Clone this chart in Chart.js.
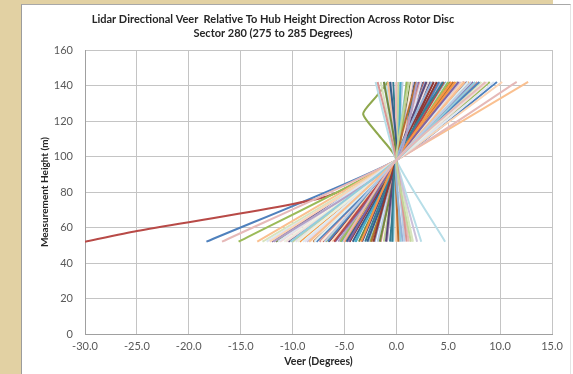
<!DOCTYPE html>
<html>
<head>
<meta charset="utf-8">
<script src="https://cdn.jsdelivr.net/npm/chart.js@4.4.0/dist/chart.umd.min.js"></script>
<style>
  html, body { margin: 0; padding: 0; background: #fff; }
  #frame { position: absolute; left: 0; top: 0; width: 553px; height: 374px; background: #E2D1A3; }
  #panel { position: absolute; left: 21px; top: 4px; width: 548px; height: 370px; background: #fff;
           border-left: 1px solid #9C9C9C; border-top: 1px solid #A8A8A8; border-right: 1px solid #E4E4E4; }
  #chart { position: absolute; left: 0; top: 0; }
</style>
</head>
<body>
<div id="frame"></div>
<div id="panel"><canvas id="chart" width="548" height="369"></canvas></div>
<script>
// measurement heights (m)
const lowHeight = 52;
const hubHeight = 98;
const topHeight = 142;
const hubVeer = 0;

// veer (deg) of each profile at the lowest and highest level
const veerLow = [
  -18.3, -30.0, -15.2, -12.0, -3.9, -9.3, -4.2, -6.5, -11.6, -10.4,
  -0.6, -8.0, -2.7, -7.4, -10.0, -5.6, 0.4, -13.4, -1.8, -16.8,
  -12.9, -8.6, 2.4, -6.2, -12.5, -11.2, -10.8, -9.7, -9.0, -8.3,
  -7.7, -7.1, -6.8, -5.9, -5.3, -5.0, -4.8, -4.5, -3.6, -3.3,
  -3.0, -2.4, -2.1, -1.5, -1.2, -0.9, -0.3, 0.0, 0.8, 1.2,
  1.6, 2.0, 4.7, -12.2, -11.4, -10.6, -9.5, -8.8, -7.9, -7.2,
  -6.6, -6.0, -5.4, -4.6, -4.0, -3.4, -2.8, -2.2, -1.6, -1.0,
  -0.4, 0.2, 0.6, 1.0, 1.4, -11.8, -10.2, -8.4, -6.9, -5.1
];
const veerTop = [
  9.7, 6.5, 9.0, 7.4, 4.8, 7.0, 2.5, 3.6, 5.2, 6.8,
  -0.3, 5.5, 4.2, 7.8, 5.9, 4.4, 0.5, 12.7, 0.6, 11.6,
  8.2, 6.2, -1.0, 6.4, 6.0, 8.8, 4.6, 3.8, 4.9, 3.2,
  4.1, 2.7, 5.0, 2.2, 3.0, 5.7, 1.8, 3.9, 1.4, 3.3,
  2.0, 1.1, 2.8, 2.3, 0.2, 1.6, 1.0, -0.8, -1.2, 0.0,
  -1.5, -0.5, -2.0, 10.2, 9.4, 3.0, 8.5, 2.4, 6.9, 1.5,
  8.0, 4.6, 1.0, 6.0, 0.4, 5.3, -0.6, 3.6, -1.2, 2.9,
  4.5, 1.9, 3.4, -1.8, 1.2, 2.0, 7.6, 6.6, 7.2, 8.6
];

// profiles that need more levels than low / hub / top
const strongHeights = [52, 58, 77, 98, 142];      // series 2 (large veer below hub)
const strongVeer = [-30.0, -25.0, -7.0, 0, 6.5];
const bendHeights = [52, 98, 112, 124, 134, 142];  // backs off above hub
const bendVeer = [-2.5, 0, -1.7, -3.2, -1.9, -0.8];

const palette = [
  '#4F81BD', '#B84A47', '#9BBB59', '#8064A2', '#4BACC6', '#F79646',
  '#385D8A', '#8C3836', '#71893F', '#5C4776', '#357D91', '#B66D31',
  '#95B3D7', '#D99694', '#C3D69B', '#B3A2C7', '#93CDDD', '#FAC090',
  '#B9CDE5', '#E6B9B8', '#D7E4BD', '#CCC1DA', '#B7DEE8', '#FCD5B5',
  '#DCE6F2', '#F2DCDB', '#EBF1DE', '#E6E0EC', '#DBEEF4', '#FDEADA'
];

const toPoints = (hs, vs) => hs.map((h, k) => ({ x: vs[k], y: h }));

const datasets = veerLow.map((low, i) => ({
  data: toPoints([lowHeight, hubHeight, topHeight], [low, hubVeer, veerTop[i]]),
  borderColor: palette[i % palette.length]
}));
datasets[1].data = toPoints(strongHeights, strongVeer);
datasets.splice(40, 0, { data: toPoints(bendHeights, bendVeer), borderColor: '#8FA84E' });
// later series on top, like the spreadsheet
datasets.forEach((d, i) => { d.order = datasets.length - i; });

const titlePlugin = {
  id: 'sheetTitle',
  afterDraw(chart) {
    const c = chart.ctx;
    c.save();
    c.fillStyle = '#262626';
    c.font = 'bold 11px Lato';
    c.textAlign = 'center';
    c.textBaseline = 'middle';
    c.fillText('Lidar Directional Veer  Relative To Hub Height Direction Across Rotor Disc', 251, 14);
    c.fillText('Sector 280 (275 to 285 Degrees)', 251, 28);
    c.restore();
  }
};

const gridColor = '#C4C4C4';
new Chart(document.getElementById('chart'), {
  type: 'scatter',
  data: { datasets: datasets },
  plugins: [titlePlugin],
  options: {
    responsive: false,
    animation: false,
    layout: { padding: { left: 0, right: 18, top: 45, bottom: 0 } },
    datasets: {
      scatter: { showLine: true, pointRadius: 0, borderWidth: 2, tension: 0.2, fill: false }
    },
    plugins: { legend: { display: false }, tooltip: { enabled: false } },
    scales: {
      x: {
        min: -30, max: 15,
        afterFit(s) { s.height = 40; },
        grid: { color: gridColor, drawTicks: false },
        border: { color: '#A0A0A0' },
        ticks: {
          stepSize: 5, padding: 6, color: '#595959', font: { family: 'Lato', size: 11 },
          callback: v => v.toFixed(1)
        },
        title: {
          display: true, text: 'Veer (Degrees)', color: '#262626',
          font: { family: 'Lato', size: 10.5, weight: 'bold' }, padding: { top: 0, bottom: 6 }
        }
      },
      y: {
        min: 0, max: 160,
        afterFit(s) { s.width = 63; },
        grid: { color: gridColor, drawTicks: false },
        border: { color: '#A0A0A0' },
        ticks: { stepSize: 20, padding: 12, color: '#595959', font: { family: 'Lato', size: 11 } },
        title: {
          display: true, text: 'Measurement Height (m)', color: '#262626',
          font: { family: 'Lato', size: 10, weight: 'bold' }, padding: { top: 17, bottom: 0 }
        }
      }
    }
  }
});
</script>
</body>
</html>
